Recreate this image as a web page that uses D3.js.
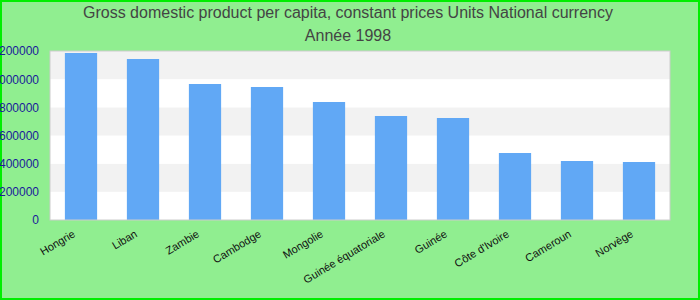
<!DOCTYPE html>
<html><head><meta charset="utf-8">
<script src="https://cdn.jsdelivr.net/npm/d3@7"></script>
<style>body{margin:0;padding:0;background:#fff}svg{display:block}</style>
</head><body>
<svg id="chart" width="700" height="300"></svg>
<script>
const categories = ["Hongrie","Liban","Zambie","Cambodge","Mongolie","Guinée équatoriale","Guinée","Côte d'Ivoire","Cameroun","Norvège"];
const values = [1185800,1143200,965700,944400,837900,738500,724300,475700,418900,411800];
const yTicks = [0,200000,400000,600000,800000,1000000,1200000];
const titleLines = ["Gross domestic product per capita, constant prices Units National currency","Année 1998"];

const svg = d3.select("#chart");
const W = 700, H = 300;
const m = {left:50, right:30, top:51, bottom:80};
const pw = W - m.left - m.right, ph = H - m.top - m.bottom;

svg.append("rect").attr("x",1).attr("y",1).attr("width",W-2).attr("height",H-2)
  .attr("fill","#90ee90").attr("stroke","#00ee00").attr("stroke-width",2);

const x = d3.scaleBand().domain(categories).range([m.left, m.left+pw]).paddingInner(0.48).paddingOuter(0.24);
const y = d3.scaleLinear().domain([0,1200000]).range([m.top+ph, m.top]);

const g = svg.append("g");
g.append("rect").attr("x",m.left).attr("y",m.top).attr("width",pw).attr("height",ph).attr("fill","#fff");
for (let i=0;i<yTicks.length-1;i++){
  g.append("rect").attr("x",m.left).attr("width",pw)
    .attr("y",y(yTicks[i+1])).attr("height",y(yTicks[i])-y(yTicks[i+1]))
    .attr("fill", i%2===1 ? "#f2f2f2" : "#ffffff");
}
g.selectAll("rect.bar").data(values).enter().append("rect").attr("class","bar")
  .attr("x",(d,i)=>x(categories[i])).attr("width",x.bandwidth())
  .attr("y",d=>y(d)).attr("height",d=>y(0)-y(d)).attr("fill","#61a8f5");
g.append("rect").attr("x",m.left).attr("y",m.top).attr("width",pw).attr("height",ph)
  .attr("fill","none").attr("stroke","#cccccc").attr("stroke-width",1);

const yAxis = d3.axisLeft(y).tickValues(yTicks).tickSize(0).tickPadding(11).tickFormat(d3.format("d"));
const ya = svg.append("g").attr("transform",`translate(${m.left},0)`).call(yAxis);
ya.select(".domain").remove();
ya.selectAll("text").attr("fill","#1a1a9a").style("font-family","Arial, 'Liberation Sans', sans-serif").style("font-size","12px");

const xAxis = d3.axisBottom(x).tickSize(0).tickPadding(0);
const xa = svg.append("g").attr("transform",`translate(0,${m.top+ph})`).call(xAxis);
xa.select(".domain").remove();
xa.selectAll("text").attr("fill","#111").style("font-family","Arial, 'Liberation Sans', sans-serif").style("font-size","11px")
  .attr("text-anchor","end").attr("dy",null).attr("y",null)
  .attr("transform","translate(-5,16) rotate(-31)");

const t = svg.append("g").style("font-family","Arial, 'Liberation Sans', sans-serif").style("font-size","16px").attr("fill","#444");
titleLines.forEach((s,i)=>{
  t.append("text").attr("x",348).attr("y",18+i*23).attr("text-anchor","middle").text(s);
});
</script>
</body></html>
